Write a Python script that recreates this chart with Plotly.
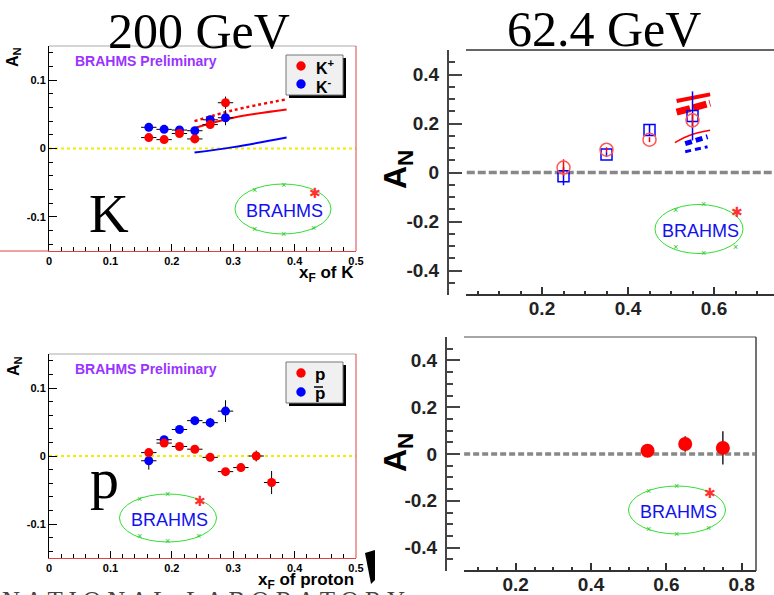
import plotly.graph_objects as go

# ---------------- data ----------------
# 200 GeV, kaons
xf_K = [0.1625, 0.1875, 0.2125, 0.2375, 0.2625, 0.2875]
AN_Kplus = [0.016, 0.013, 0.022, 0.014, 0.035, 0.067]
AN_Kplus_err = [0.004, 0.004, 0.004, 0.005, 0.006, 0.009]
AN_Kminus = [0.031, 0.028, 0.027, 0.026, 0.042, 0.045]
AN_Kminus_err = [0.004, 0.004, 0.004, 0.005, 0.006, 0.011]
xf_bin_half = 0.0125
# 200 GeV theory curves
xf_theory_K = [0.237, 0.300, 0.387]
Kplus_theory_dotted = [0.040, 0.056, 0.072]
Kplus_theory_solid = [0.030, 0.045, 0.057]
Kminus_theory_solid = [-0.006, 0.002, 0.016]

# 200 GeV, protons
xf_p = [0.1625, 0.1875, 0.2125, 0.2375, 0.2625, 0.2875, 0.3125, 0.3375, 0.3625]
AN_p = [0.005, 0.019, 0.014, 0.010, -0.002, -0.023, -0.017, 0.000, -0.039]
AN_p_err = [0.005, 0.004, 0.004, 0.004, 0.005, 0.005, 0.006, 0.008, 0.017]
xf_pbar = [0.1625, 0.1875, 0.2125, 0.2375, 0.2625, 0.2875]
AN_pbar = [-0.007, 0.024, 0.039, 0.052, 0.049, 0.066]
AN_pbar_err = [0.013, 0.005, 0.005, 0.006, 0.007, 0.016]

# 62.4 GeV, kaons
xf_K62 = [0.25, 0.35, 0.45, 0.55]
AN_Kplus62 = [0.020, 0.093, 0.134, 0.213]
AN_Kplus62_err = [0.034, 0.010, 0.010, 0.030]
AN_Kminus62 = [-0.015, 0.073, 0.173, 0.231]
AN_Kminus62_err = [0.037, 0.010, 0.022, 0.100]
# 62.4 GeV theory curves
xf_th62_a = [0.513, 0.591]
th62_red_solid = [0.292, 0.319]
th62_red_band = [0.246, 0.283]
xf_th62_b = [0.509, 0.544, 0.591]
th62_red_thin = [0.122, 0.152, 0.172]
xf_th62_c = [0.533, 0.585]
th62_blue_thick = [0.118, 0.146]
th62_blue_thin = [0.085, 0.105]

# 62.4 GeV, protons
xf_p62 = [0.55, 0.65, 0.75]
AN_p62 = [0.014, 0.043, 0.026]
AN_p62_err = [0.008, 0.033, 0.071]

# ---------------- helpers ----------------
W, H = 774, 595
def fx(p):
    return p / W
def fy(p):
    return 1 - p / H

SANS = "Liberation Sans"
SERIF = "Liberation Serif"
RED = "#ff0000"
BLUE = "#0000ff"

fig = go.Figure()

def err(arr, color="black", th=1):
    return dict(type="data", array=arr, visible=True, color=color, thickness=th, width=0)

# ---- top-left (200 GeV K)
fig.add_trace(go.Scatter(x=[0, 0.5], y=[0, 0], mode="lines", xaxis="x", yaxis="y",
                         line=dict(color="#eeee00", width=2, dash="dot")))
fig.add_trace(go.Scatter(x=xf_theory_K, y=Kplus_theory_dotted, mode="lines", xaxis="x", yaxis="y",
                         line=dict(color=RED, width=2.5, dash="dot", shape="spline")))
fig.add_trace(go.Scatter(x=xf_theory_K, y=Kplus_theory_solid, mode="lines", xaxis="x", yaxis="y",
                         line=dict(color=RED, width=2, shape="spline")))
fig.add_trace(go.Scatter(x=xf_theory_K, y=Kminus_theory_solid, mode="lines", xaxis="x", yaxis="y",
                         line=dict(color=BLUE, width=2, shape="spline")))
fig.add_trace(go.Scatter(x=xf_K, y=AN_Kminus, mode="markers", xaxis="x", yaxis="y",
                         marker=dict(color=BLUE, size=9),
                         error_y=err(AN_Kminus_err), error_x=dict(type="constant", value=xf_bin_half, color="black", thickness=1, width=0)))
fig.add_trace(go.Scatter(x=xf_K, y=AN_Kplus, mode="markers", xaxis="x", yaxis="y",
                         marker=dict(color=RED, size=9),
                         error_y=err(AN_Kplus_err), error_x=dict(type="constant", value=xf_bin_half, color="black", thickness=1, width=0)))

# ---- bottom-left (200 GeV p)
fig.add_trace(go.Scatter(x=[0, 0.5], y=[0, 0], mode="lines", xaxis="x2", yaxis="y2",
                         line=dict(color="#eeee00", width=2, dash="dot")))
fig.add_trace(go.Scatter(x=xf_pbar, y=AN_pbar, mode="markers", xaxis="x2", yaxis="y2",
                         marker=dict(color=BLUE, size=9),
                         error_y=err(AN_pbar_err), error_x=dict(type="constant", value=xf_bin_half, color="black", thickness=1, width=0)))
fig.add_trace(go.Scatter(x=xf_p, y=AN_p, mode="markers", xaxis="x2", yaxis="y2",
                         marker=dict(color=RED, size=9),
                         error_y=err(AN_p_err), error_x=dict(type="constant", value=xf_bin_half, color="black", thickness=1, width=0)))

# ---- top-right (62.4 GeV K)
fig.add_trace(go.Scatter(x=[0.025, 0.74], y=[0, 0], mode="lines", xaxis="x3", yaxis="y3",
                         line=dict(color="#888888", width=3.5, dash="8px,3px")))
fig.add_trace(go.Scatter(x=xf_th62_a, y=th62_red_solid, mode="lines", xaxis="x3", yaxis="y3",
                         line=dict(color=RED, width=4)))
fig.add_trace(go.Scatter(x=xf_th62_a, y=th62_red_band, mode="lines", xaxis="x3", yaxis="y3",
                         line=dict(color=RED, width=7, dash="14px,3px")))
fig.add_trace(go.Scatter(x=xf_th62_b, y=th62_red_thin, mode="lines", xaxis="x3", yaxis="y3",
                         line=dict(color=RED, width=1.5, shape="spline")))
fig.add_trace(go.Scatter(x=xf_th62_c, y=th62_blue_thick, mode="lines", xaxis="x3", yaxis="y3",
                         line=dict(color=BLUE, width=5, dash="7px,4px")))
fig.add_trace(go.Scatter(x=xf_th62_c, y=th62_blue_thin, mode="lines", xaxis="x3", yaxis="y3",
                         line=dict(color=BLUE, width=3, dash="6px,4px")))
fig.add_trace(go.Scatter(x=xf_K62, y=AN_Kminus62, mode="markers", xaxis="x3", yaxis="y3",
                         marker=dict(symbol="square-open", color=BLUE, size=11, line=dict(width=1.5)),
                         error_y=err(AN_Kminus62_err, BLUE, 1.5)))
fig.add_trace(go.Scatter(x=xf_K62, y=AN_Kplus62, mode="markers", xaxis="x3", yaxis="y3",
                         marker=dict(symbol="circle-open", color="#ff5555", size=13, line=dict(width=1.5)),
                         error_y=err(AN_Kplus62_err, RED, 1.5)))

# ---- bottom-right (62.4 GeV p)
fig.add_trace(go.Scatter(x=[0.063, 0.835], y=[0, 0], mode="lines", xaxis="x4", yaxis="y4",
                         line=dict(color="#888888", width=3.5, dash="6px,3px")))
fig.add_trace(go.Scatter(x=xf_p62, y=AN_p62, mode="markers", xaxis="x4", yaxis="y4",
                         marker=dict(color=RED, size=14),
                         error_y=err(AN_p62_err, "#222222", 1.5)))

for tr in fig.data:
    tr.showlegend = False
    tr.hoverinfo = "skip"

# ---------------- axes ----------------
left_tickfont = dict(family=SANS, size=11, color="black", weight="bold")
right_tickfont = dict(family=SANS, size=19, color="#222222", weight="bold")

def left_x(dom):
    return dict(domain=dom, range=[0, 0.5], showline=True, linecolor="#d44", linewidth=1,
                ticks="inside", ticklen=7, tickcolor="black", tickmode="linear", tick0=0, dtick=0.1,
                minor=dict(ticks="inside", ticklen=4, tickcolor="black", tickmode="linear", tick0=0, dtick=0.02),
                tickfont=left_tickfont, showgrid=False, zeroline=False, automargin=False, fixedrange=True)

def left_y(dom, anchor):
    return dict(domain=dom, range=[-0.15, 0.15], anchor=anchor, showline=True, linecolor="black", linewidth=1,
                ticks="inside", ticklen=8, tickcolor="black", tickmode="array",
                tickvals=[-0.1, 0, 0.1], ticktext=["-0.1", "0", "0.1"],
                minor=dict(ticks="inside", ticklen=4, tickcolor="black", tickmode="linear", tick0=0, dtick=0.02),
                tickfont=left_tickfont, showgrid=False, zeroline=False, automargin=False, fixedrange=True)

def right_x(dom, rng, vals, minors):
    return dict(domain=dom, range=rng, showline=False,
                ticks="inside", ticklen=8, tickcolor="#333", tickwidth=1.5, tickmode="array",
                tickvals=vals, ticktext=[f"{v:.1f}" for v in vals],
                minor=dict(ticks="inside", ticklen=4, tickcolor="#333", tickwidth=1.5, tickmode="array", tickvals=minors),
                tickfont=right_tickfont, showgrid=False, zeroline=False, automargin=False, fixedrange=True)

def right_y(dom, anchor):
    return dict(domain=dom, range=[-0.5, 0.5], anchor=anchor, showline=True, linecolor="#444", linewidth=2,
                ticks="inside", ticklen=13, tickcolor="#444", tickwidth=1.5, tickmode="array",
                tickvals=[-0.4, -0.2, 0, 0.2, 0.4], ticktext=["-0.4", "-0.2", "0", "0.2", "0.4"],
                minor=dict(ticks="inside", ticklen=6, tickcolor="#444", tickwidth=1.5, tickmode="linear", tick0=0, dtick=0.05),
                tickfont=right_tickfont, ticklabelstandoff=4,
                showgrid=False, zeroline=False, automargin=False, fixedrange=True)

dx_left = [fx(49), fx(356)]
fig.update_layout(
    xaxis=dict(left_x(dx_left), anchor="y"),
    yaxis=left_y([fy(251), fy(46)], "x"),
    xaxis2=dict(left_x(dx_left), anchor="y2"),
    yaxis2=left_y([fy(558), fy(354)], "x2"),
    xaxis3=dict(right_x([fx(449), 1.0], [-0.0163, 0.7395], [0.2, 0.4, 0.6],
                        [0.05, 0.1, 0.15, 0.25, 0.3, 0.35, 0.45, 0.5, 0.55, 0.65, 0.7]), anchor="y3"),
    yaxis3=right_y([fy(295), fy(50)], "x3"),
    xaxis4=dict(right_x([fx(447), fx(756)], [0.0175, 0.838], [0.2, 0.4, 0.6, 0.8],
                        [0.1, 0.15, 0.25, 0.3, 0.35, 0.45, 0.5, 0.55, 0.65, 0.7, 0.75]), anchor="y4"),
    yaxis4=right_y([fy(571), fy(337)], "x4"),
)

# ---------------- frames / decorations ----------------
shapes = []
def seg(x0, y0, x1, y1, color, w=1, xref="paper", yref="paper"):
    shapes.append(dict(type="line", x0=x0, y0=y0, x1=x1, y1=y1, xref=xref, yref=yref,
                       line=dict(color=color, width=w), layer="above"))

# top-left frame
seg(0, 1, 1, 1, "#aaaaaa", 1, "x domain", "y domain")
seg(1, 0, 1, 1, "#dd4444", 1, "x domain", "y domain")
seg(0, fy(251), fx(49), fy(251), "#dd4444", 1)
# bottom-left frame
seg(0, 1, 1, 1, "#aaaaaa", 1, "x2 domain", "y2 domain")
seg(1, 0, 1, 1, "#dd4444", 1, "x2 domain", "y2 domain")
# top-right frame
seg((466 - 449) / 325, 0, 1, 0, "#333333", 2, "x3 domain", "y3 domain")
seg((466 - 449) / 325, 1, 1, 1, "#333333", 1.5, "x3 domain", "y3 domain")
# bottom-right frame
seg((464 - 447) / 309, 0, 1, 0, "#333333", 2, "x4 domain", "y4 domain")
seg((464 - 447) / 309, 1, 1, 1, "#888888", 1.5, "x4 domain", "y4 domain")
seg(1, 0, 1, 1, "#444444", 1.5, "x4 domain", "y4 domain")

# legends (manual boxes)
def legend_box(x0, y0, x1, y1):
    shapes.append(dict(type="rect", xref="paper", yref="paper", x0=fx(x0 + 3), y0=fy(y1 + 3), x1=fx(x1 + 3), y1=fy(y0 + 3),
                       fillcolor="black", line=dict(width=0), layer="above"))
    shapes.append(dict(type="rect", xref="paper", yref="paper", x0=fx(x0), y0=fy(y1), x1=fx(x1), y1=fy(y0),
                       fillcolor="#f0f0f0", line=dict(color="#777", width=1), layer="above"))

def dot(cx, cy, r, color):
    shapes.append(dict(type="circle", xref="paper", yref="paper", x0=fx(cx - r), x1=fx(cx + r),
                       y0=fy(cy + r), y1=fy(cy - r), fillcolor=color, line=dict(width=0), layer="above"))

legend_box(286, 55, 343, 95)
dot(301, 66, 4.7, RED)
dot(301, 84, 4.7, BLUE)
legend_box(286, 362, 343, 403)
dot(301, 373, 4.7, RED)
dot(301, 392, 4.7, BLUE)
seg(fx(314), fy(387), fx(323), fy(387), "black", 1.5)

annotations = []
def txt(x, y, s, size, color="black", family=SANS, bold=False, xanchor="center", yanchor="middle", angle=0):
    annotations.append(dict(x=fx(x), y=fy(y), xref="paper", yref="paper", text=s, showarrow=False,
                            font=dict(family=family, size=size, color=color, weight="bold" if bold else "normal"),
                            xanchor=xanchor, yanchor=yanchor, textangle=angle))

# BRAHMS logos
def logo(cx, cy, w, h, xs, star):
    shapes.append(dict(type="circle", xref="paper", yref="paper", x0=fx(cx - w / 2), x1=fx(cx + w / 2),
                       y0=fy(cy + h / 2), y1=fy(cy - h / 2), line=dict(color="#33dd33", width=1), layer="above"))
    for (px, py) in xs:
        txt(px, py, "×", 9, "#22cc22")
    txt(star[0], star[1] + 1, "✱", 14, "#ff3030", family="DejaVu Sans")
    txt(cx + 1, cy + 2, "BRAHMS", 18, "#1111ee")

logo(283, 209, 96, 50, [(255, 190), (283, 185), (255, 229), (283, 234), (313, 228)], (315, 192))
logo(168, 518, 97, 48, [(139, 499), (167, 494), (139, 536), (167, 541), (198, 536)], (200, 500))
logo(699, 229, 88, 49, [(675, 210), (703, 204), (675, 247), (703, 253), (735, 247)], (737, 211))
logo(677, 510, 97, 48, [(648, 491), (676, 486), (648, 529), (676, 534), (708, 528)], (710, 492))

# titles
txt(199, 31, "200 GeV", 50, family=SERIF)
txt(604, 29, "62.4 GeV", 50, family=SERIF)
txt(109, 213, "K", 55, family=SERIF)
txt(104, 478, "p", 58, family=SERIF)

# preliminary labels
txt(146, 61, "BRAHMS Preliminary", 14, "#9933ff", bold=True)
txt(146, 369, "BRAHMS Preliminary", 14, "#9933ff", bold=True)

# legend labels
txt(314, 67, "K<sup>+</sup>", 16, bold=True, xanchor="left")
txt(314, 86, "K<sup>-</sup>", 16, bold=True, xanchor="left")
txt(313, 374, "p", 17, bold=True, xanchor="left")
txt(313, 393, "p", 17, bold=True, xanchor="left")

# axis titles
txt(14, 57, "A<sub>N</sub>", 16, bold=True, angle=-90)
txt(14, 366, "A<sub>N</sub>", 16, bold=True, angle=-90)
txt(397, 169, "A<sub>N</sub>", 32, bold=True, angle=-90)
txt(397, 452, "A<sub>N</sub>", 32, bold=True, angle=-90)
txt(356, 274, "x<sub>F</sub> of K", 17, bold=True, xanchor="right")
txt(356, 581, "x<sub>F</sub> of proton", 17, bold=True, xanchor="right")

# cut-off footer text (only the top of the letters shows in the reference)
txt(0, 600, "N A T I O N A L   L A B O R A T O R Y", 25, "#444444", family=SERIF, xanchor="left", yanchor="middle")

# black wedge fragment at bottom-left
shapes.append(dict(type="path", xref="paper", yref="paper",
                   path=f"M {fx(365)},{fy(553)} L {fx(375)},{fy(550)} L {fx(375)},{fy(580)} L {fx(371)},{fy(584)} Z",
                   fillcolor="black", line=dict(width=0), layer="above"))

fig.update_layout(
    width=W, height=H, autosize=False,
    margin=dict(l=0, r=0, t=0, b=0),
    paper_bgcolor="white", plot_bgcolor="white",
    showlegend=False,
    shapes=shapes, annotations=annotations,
)

fig.write_html("out.html")
